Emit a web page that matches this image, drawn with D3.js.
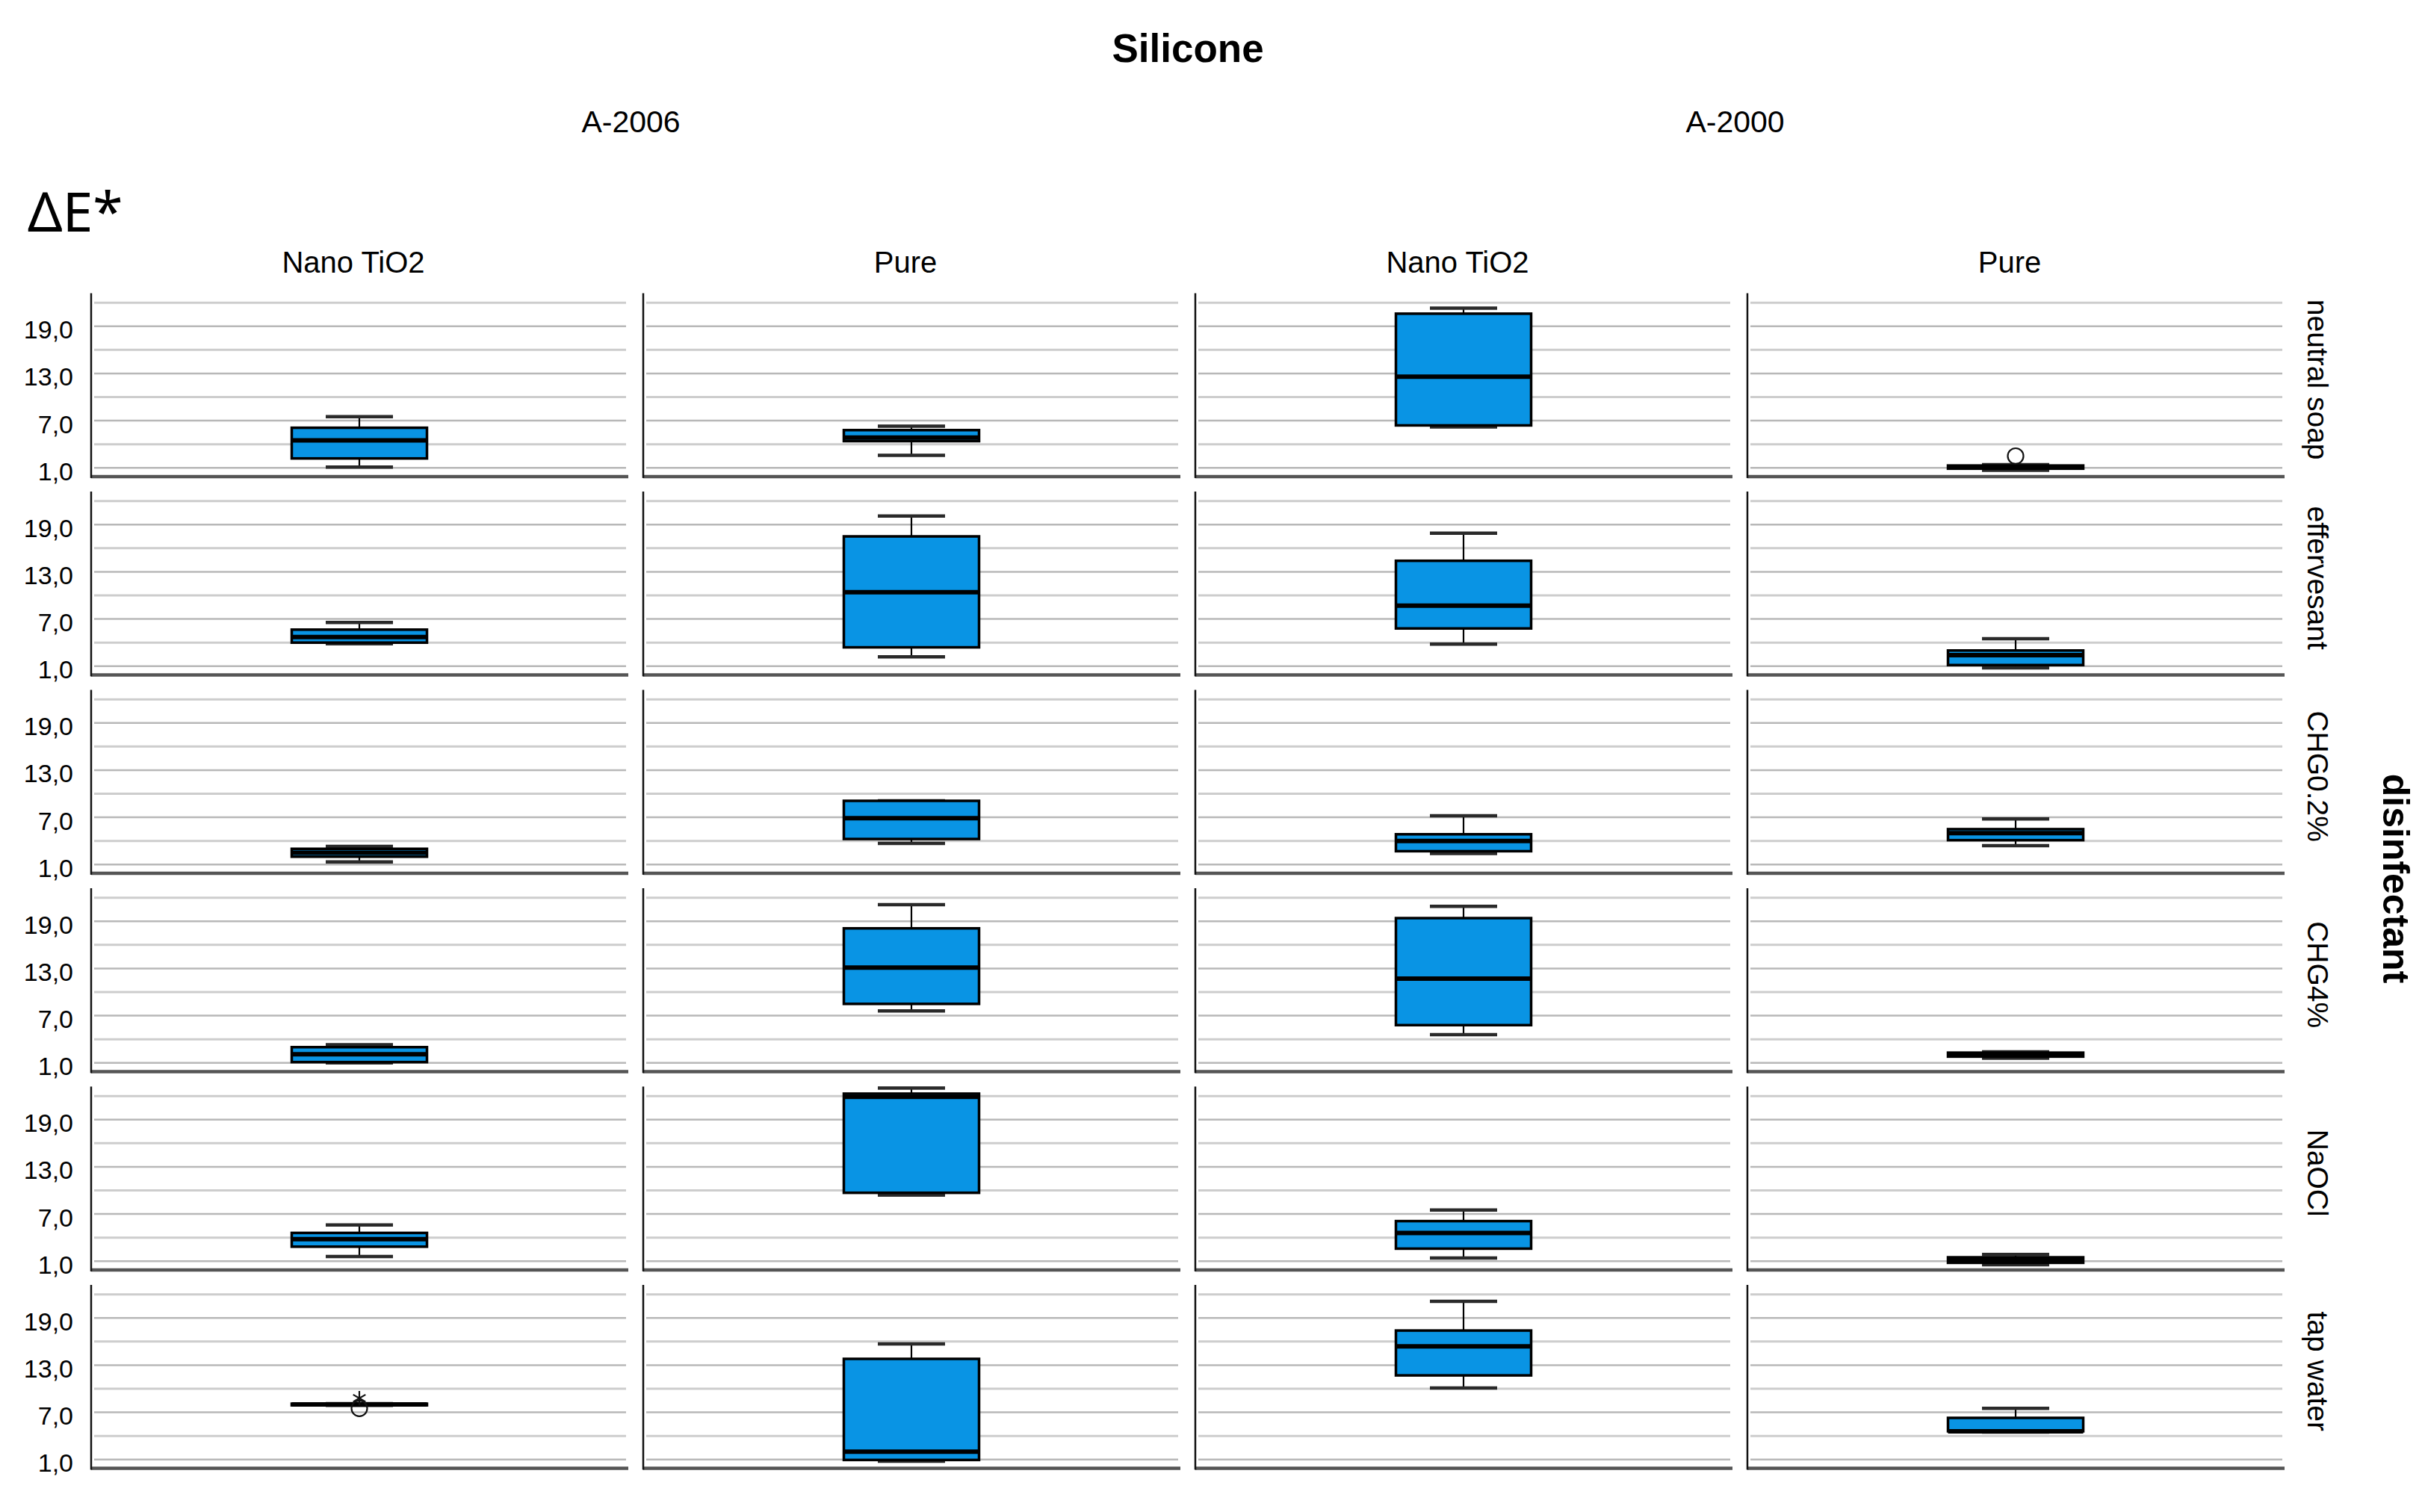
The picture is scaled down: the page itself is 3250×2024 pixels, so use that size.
<!DOCTYPE html>
<html>
<head>
<meta charset="utf-8">
<script src="https://cdn.jsdelivr.net/npm/d3@7"></script>
<style>
  html, body { margin: 0; padding: 0; background: #ffffff; }
  svg { display: block; }
  text { font-family: "Liberation Sans", Arial, sans-serif; fill: #000; }
</style>
</head>
<body>
<script>
// ---------------- DATA ----------------
const chartTitle = "Silicone";
const materials = ["A-2006", "A-2000"];
const types = ["Nano TiO2", "Pure"];
const disinfectants = ["neutral soap", "effervesant", "CHG0.2%", "CHG4%", "NaOCl", "tap water"];
const rowFactorTitle = "disinfectant";
const yLabel = "ΔE*";
const tickValues = [1, 7, 13, 19];
const gridValues = [1, 4, 7, 10, 13, 16, 19, 22];
const yDomain = [-0.1, 23.2];

// columns: A-2006 Nano TiO2, A-2006 Pure, A-2000 Nano TiO2, A-2000 Pure
const whiskerLow = [
  [1.1, 2.6, 6.2, 0.7],
  [3.85, 2.2, 3.8, 0.8],
  [1.35, 3.7, 2.4, 3.4],
  [1.0, 7.6, 4.6, 1.6],
  [1.6, 9.4, 1.4, 0.55],
  [7.9, 0.8, 10.1, 4.5]
];
const q1 = [
  [2.2, 4.4, 6.4, 0.9],
  [4.0, 3.4, 5.8, 1.15],
  [2.0, 4.25, 2.7, 4.1],
  [1.1, 8.5, 5.8, 1.8],
  [2.85, 9.7, 2.6, 0.8],
  [7.9, 0.95, 11.7, 4.6]
];
const median = [
  [4.5, 4.85, 12.6, 1.1],
  [4.7, 10.4, 8.7, 2.4],
  [2.5, 6.9, 4.0, 5.0],
  [2.1, 13.1, 11.7, 2.0],
  [3.8, 21.9, 4.6, 1.15],
  [8.0, 2.0, 15.4, 4.6]
];
const q3 = [
  [6.1, 5.8, 20.6, 1.3],
  [5.65, 17.5, 14.4, 3.0],
  [3.0, 9.1, 4.85, 5.5],
  [3.0, 18.1, 19.4, 2.3],
  [4.6, 22.3, 6.1, 1.5],
  [8.1, 13.8, 17.4, 6.3]
];
const whiskerHigh = [
  [7.5, 6.3, 21.3, 1.4],
  [6.55, 20.1, 17.9, 4.5],
  [3.3, 9.1, 7.2, 6.8],
  [3.3, 21.1, 20.9, 2.4],
  [5.6, 23.0, 7.5, 1.85],
  [8.1, 15.7, 21.1, 7.5]
];
// outliers: [rowIndex, colIndex, value, kind]
const outlierRows = [0, 5, 5];
const outlierCols = [3, 0, 0];
const outlierValues = [2.5, 7.5, 8.8];
const outlierKinds = ["circle", "circle", "star"];

// ---------------- LAYOUT ----------------
const W = 3250, H = 2024;
const boxFill = "#0994e4";

const columns = [];
materials.forEach((m, mi) => types.forEach((t, ti) => columns.push({ m, t, i: mi * 2 + ti })));

const colScale = d3.scaleBand().domain(d3.range(columns.length)).range([122, 3057]).paddingInner(0.0284).paddingOuter(0);
const rowScale = d3.scaleBand().domain(disinfectants).range([392.5, 1965.4]).paddingInner(0.0757).paddingOuter(0);
const pw = colScale.bandwidth();
const ph = rowScale.bandwidth();
const y = d3.scaleLinear().domain(yDomain).range([ph, 0]);
const boxW = 181, capW = 90;

const svg = d3.select("body").append("svg").attr("width", W).attr("height", H);
svg.append("rect").attr("width", W).attr("height", H).attr("fill", "#fff");

// Title
svg.append("text").attr("x", 1590).attr("y", 83).attr("text-anchor", "middle")
  .style("font-size", "53px").style("font-weight", "bold").text(chartTitle);

// Material headers
materials.forEach((m, mi) => {
  const cx = (colScale(mi * 2) + colScale(mi * 2 + 1) + pw) / 2 - 6;
  svg.append("text").attr("x", cx).attr("y", 177).attr("text-anchor", "middle")
    .style("font-size", "41px").text(m);
});

// ΔE* label
svg.append("text").attr("x", 37).attr("y", 310)
  .style("font-family", "'Noto Sans', 'Open Sans', sans-serif").style("font-size", "73px").text(yLabel);

// Type headers
columns.forEach(c => {
  svg.append("text").attr("x", colScale(c.i) + pw / 2 - 8).attr("y", 365).attr("text-anchor", "middle")
    .style("font-size", "40px").text(c.t);
});

// Row labels
disinfectants.forEach(d => {
  const cy = rowScale(d) + ph / 2 - 7;
  svg.append("text").attr("transform", `translate(3089,${cy}) rotate(90)`).attr("text-anchor", "middle")
    .style("font-size", "39px").text(d);
});
svg.append("text").attr("transform", `translate(3190,1176) rotate(90)`).attr("text-anchor", "middle")
  .style("font-size", "50px").style("font-weight", "bold").text(rowFactorTitle);

const fmt = v => d3.format(".1f")(v).replace(".", ",");

// Panels
disinfectants.forEach((d, ri) => {
  columns.forEach(c => {
    const ci = c.i;
    const g = svg.append("g").attr("transform", `translate(${colScale(ci)},${rowScale(d)})`);

    // gridlines
    g.selectAll("line.grid").data(gridValues).enter().append("line")
      .attr("x1", 4).attr("x2", pw - 2)
      .attr("y1", v => y(v)).attr("y2", v => y(v))
      .attr("stroke", v => tickValues.includes(v) ? "#b8b8b8" : "#cdcdcd")
      .attr("stroke-width", v => tickValues.includes(v) ? 2.5 : 3);

    // axes
    g.append("line").attr("x1", 0).attr("x2", pw + 1).attr("y1", ph).attr("y2", ph)
      .attr("stroke", "#555").attr("stroke-width", 4.5);
    g.append("line").attr("x1", 0).attr("x2", 0).attr("y1", 0).attr("y2", ph + 2)
      .attr("stroke", "#111").attr("stroke-width", 2.5);

    if (ci === 0) {
      const ax = d3.axisLeft(y).tickValues(tickValues).tickSize(0).tickPadding(0).tickFormat(fmt);
      const axg = g.append("g").attr("transform", "translate(-24,5)").call(ax);
      axg.select(".domain").remove();
      axg.selectAll("text").style("font-size", "34px").style("font-family", "'Liberation Sans', Arial, sans-serif").attr("fill", "#111");
    }

    // box
    const cx = pw / 2;
    const lo = whiskerLow[ri][ci], hi = whiskerHigh[ri][ci];
    const a = q1[ri][ci], b = q3[ri][ci], m = median[ri][ci];
    g.append("line").attr("x1", cx).attr("x2", cx).attr("y1", y(hi)).attr("y2", y(b))
      .attr("stroke", "#000").attr("stroke-width", 2.2);
    g.append("line").attr("x1", cx).attr("x2", cx).attr("y1", y(a)).attr("y2", y(lo))
      .attr("stroke", "#000").attr("stroke-width", 2.2);
    [lo, hi].forEach(v => {
      g.append("line").attr("x1", cx - capW / 2).attr("x2", cx + capW / 2)
        .attr("y1", y(v)).attr("y2", y(v)).attr("stroke", "#2a2a2a").attr("stroke-width", 4.5);
    });
    g.append("rect").attr("x", cx - boxW / 2).attr("width", boxW)
      .attr("y", y(b)).attr("height", Math.max(0, y(a) - y(b)))
      .attr("fill", boxFill).attr("stroke", "#000").attr("stroke-width", 3.5);
    g.append("line").attr("x1", cx - boxW / 2).attr("x2", cx + boxW / 2)
      .attr("y1", y(m)).attr("y2", y(m)).attr("stroke", "#000").attr("stroke-width", 6);

    // outliers
    outlierValues.forEach((v, k) => {
      if (outlierRows[k] !== ri || outlierCols[k] !== ci) return;
      if (outlierKinds[k] === "circle") {
        g.append("circle").attr("cx", cx).attr("cy", y(v)).attr("r", 10.5)
          .attr("fill", "none").attr("stroke", "#111").attr("stroke-width", 2.2);
      } else {
        g.append("path").attr("transform", `translate(${cx},${y(v)})`)
          .attr("d", d3.symbol(d3.symbolAsterisk, 260)())
          .attr("fill", "none").attr("stroke", "#111").attr("stroke-width", 2.2);
      }
    });
  });
});
</script>
</body>
</html>
